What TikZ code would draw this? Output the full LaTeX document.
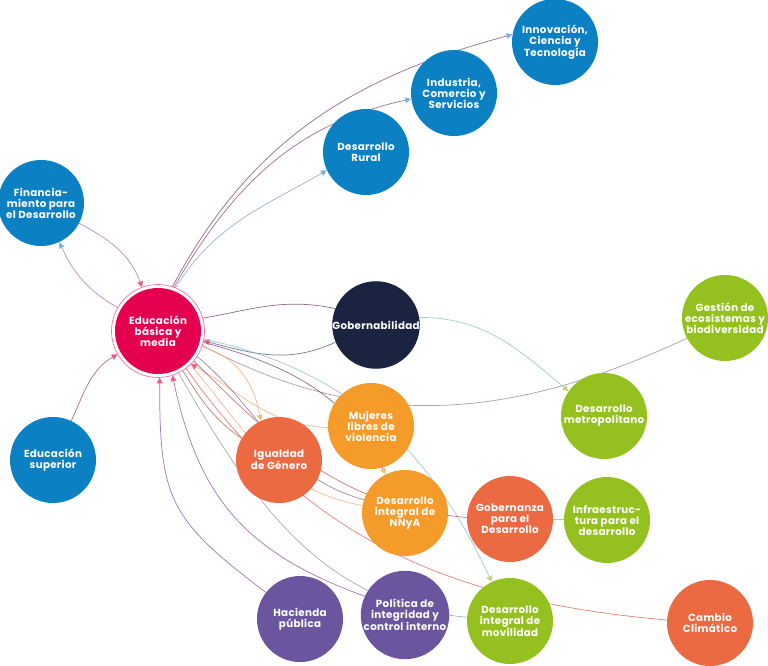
\documentclass[tikz,border=0pt]{standalone}
\usepackage{fontspec}
\setmainfont{Poppins}[LetterSpace=3]
\usetikzlibrary{arrows.meta,backgrounds}
\definecolor{cblue}{RGB}{11,128,194}
\definecolor{cpink}{RGB}{229,0,79}
\definecolor{cnavy}{RGB}{26,36,64}
\definecolor{corange}{RGB}{244,155,42}
\definecolor{cred}{RGB}{236,106,66}
\definecolor{cpurple}{RGB}{108,85,159}
\definecolor{cgreen}{RGB}{148,193,31}
\definecolor{tblue}{RGB}{120,180,222}
\definecolor{tpink}{RGB}{236,90,130}
\definecolor{tgreen}{RGB}{185,218,120}
\definecolor{torange}{RGB}{246,185,120}
\definecolor{lbluepk}{RGB}{170,120,165}
\definecolor{lpurpk}{RGB}{150,80,120}
\definecolor{lrural}{RGB}{140,160,205}
\definecolor{lgob}{RGB}{120,80,120}
\definecolor{lgobb}{RGB}{90,90,150}
\definecolor{lteal}{RGB}{140,195,185}
\definecolor{lgrey}{RGB}{160,140,140}
\definecolor{lorange}{RGB}{242,170,130}
\definecolor{lredbr}{RGB}{190,95,95}
\definecolor{lred}{RGB}{225,105,90}
\definecolor{lgpur}{RGB}{145,110,145}
\definecolor{lpur}{RGB}{140,95,160}
\definecolor{lgreyteal}{RGB}{150,160,150}
\begin{document}
\begin{tikzpicture}[x=1pt,y=1pt,
  nd/.style={circle,minimum size=86pt,inner sep=0pt,text=white,
    font=\bfseries\fontsize{10.3}{11}\selectfont,align=center},
  ln/.style={line width=0.75pt,draw opacity=0.8},
  tip/.style={-{Triangle[length=6pt,width=6pt,color=#1]}},
]
\useasboundingbox (0,0) rectangle (768,-666);
% nodes
\node[nd,fill=cpink,outer sep=3.5pt] (edu) at (158,-331) {Educación\\básica y\\media};
\draw[cpink!55,line width=0.7pt] (edu.center) circle (46.5);
\node[nd,fill=cblue] (fin) at (41,-203) {Financia-\\miento para\\el Desarrollo};
\node[nd,fill=cblue] (sup) at (53,-460) {Educación\\superior};
\node[nd,fill=cblue] (rur) at (366,-152) {Desarrollo\\Rural};
\node[nd,fill=cblue] (ind) at (454,-93) {Industria,\\Comercio y\\Servicios};
\node[nd,fill=cblue] (inn) at (555,-42) {Innovación,\\Ciencia y\\Tecnología};
\node[nd,fill=cnavy] (gob) at (376,-325) {Gobernabilidad};
\node[nd,fill=corange] (muj) at (371,-426) {Mujeres\\libres de\\violencia};
\node[nd,fill=cred] (igu) at (279,-460) {Igualdad\\de Género};
\node[nd,fill=corange] (nny) at (405,-513) {Desarrollo\\integral de\\NNyA};
\node[nd,fill=cpurple] (hac) at (300,-619) {Hacienda\\pública};
\node[nd,fill=cpurple] (pol) at (405,-615) {Política de\\integridad y\\control interno};
\node[nd,fill=cgreen] (ges) at (725,-318) {Gestión de\\ecosistemas y\\biodiversidad};
\node[nd,fill=cgreen] (met) at (604,-416) {Desarrollo\\metropolitano};
\node[nd,fill=cred] (gbz) at (510,-519) {Gobernanza\\para el\\Desarrollo};
\node[nd,fill=cgreen] (inf) at (607,-520) {Infraestruc-\\tura para el\\desarrollo};
\node[nd,fill=cgreen] (mov) at (510,-621) {Desarrollo\\integral de\\movilidad};
\node[nd,fill=cred] (cam) at (710,-623) {Cambio\\Climático};
% connectors
\begin{scope}[on background layer]
\draw[ln,lbluepk,tip=tpink] (fin.-28) to[out=-28,in=110] (edu.110);
\draw[ln,lbluepk,tip=tblue] (edu.150) to[out=150,in=-65] (fin.-65);
\draw[ln,lpurpk,tip=tpink] (sup.65) to[out=65,in=-150] (edu.-150);
\draw[ln,lrural,tip=tblue] (edu.68) to[out=58,in=-150] (rur.-155);
\draw[ln,lpurpk,tip=tblue] (edu.70) to[out=60,in=-168] (ind.-172);
\draw[ln,lgob,tip=tblue] (edu.72) to[out=62,in=-165] (inn.170);
\draw[ln,lgob] (edu.16) to[out=10,in=168] (gob.158);
\draw[ln,lgobb,tip=tpink] (gob.203) to[out=205,in=-15] (edu.-12);
\draw[ln,lteal,tip=tgreen] (gob.10) to[out=0,in=140] (met.145);
\draw[ln,lgrey] (edu.-18) to[out=-28,in=205] (ges.208);
\draw[ln,lgob,tip=torange] (edu.-14) to[out=-15,in=115] (nny.117);
\draw[ln,lteal,tip=tgreen] (edu.-10) to[out=-12,in=115] (mov.115);
\draw[ln,lorange,tip=tpink] (muj.182) to[out=178,in=-30] (edu.-45);
\draw[ln,lorange,tip=torange] (edu.-20) to[out=-15,in=100] (igu.115);
\draw[ln,lgpur] (edu.-33) to[out=-40,in=165] (nny.162);
\draw[ln,lredbr] (edu.-40) to[out=-45,in=175] (gbz.178);
\draw[ln,lorange] (edu.-46) to[out=-50,in=170] (nny.170);
\draw[ln,lred] (edu.-53) to[out=-55,in=175] (cam.176);
\draw[ln,lredbr] (edu.-58) to[out=-58,in=145] (igu.150);
\draw[ln,lgreyteal] (edu.-64) to[out=-60,in=175] (mov.175);
\draw[ln,lpur,tip=tpink] (pol.155) to[out=160,in=-78,looseness=1.1] (edu.-72);
\draw[ln,lpur,tip=tpink] (hac.142) to[out=143,in=-90,looseness=1.3] (edu.-88);
\draw[ln,lteal] (gbz) -- (inf);
\end{scope}
\end{tikzpicture}
\end{document}
